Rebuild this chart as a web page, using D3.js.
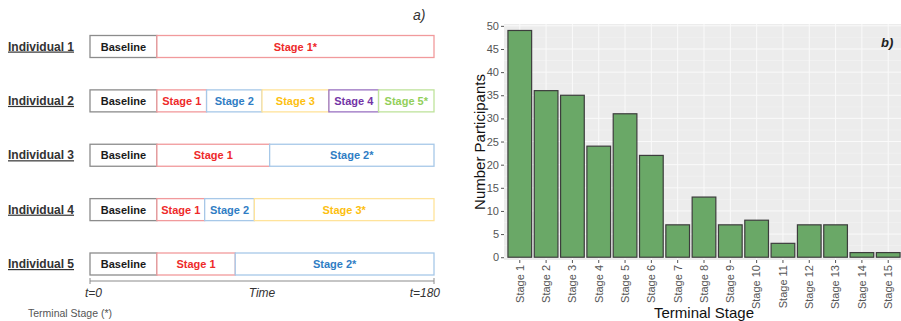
<!DOCTYPE html>
<html>
<head>
<meta charset="utf-8">
<script src="https://cdn.jsdelivr.net/npm/d3@7"></script>
<style>
  html, body { margin: 0; padding: 0; background: #ffffff; }
  svg { display: block; }
</style>
</head>
<body>
<svg id="chart" width="901" height="321"></svg>
<script>
// ---------- Panel a: example stage timelines ----------
const individuals = ["Individual 1", "Individual 2", "Individual 3", "Individual 4", "Individual 5"];
// segment boundaries in time units (baseline starts at t=0)
const segmentStarts = [
  [0, 35],
  [0, 35, 61, 90, 125, 151],
  [0, 35, 94],
  [0, 35, 60, 86],
  [0, 35, 76]
];
const segmentLabels = [
  ["Baseline", "Stage 1*"],
  ["Baseline", "Stage 1", "Stage 2", "Stage 3", "Stage 4", "Stage 5*"],
  ["Baseline", "Stage 1", "Stage 2*"],
  ["Baseline", "Stage 1", "Stage 2", "Stage 3*"],
  ["Baseline", "Stage 1", "Stage 2*"]
];
const timeEnd = 180;
const timeTicks = ["t=0", "t=180"];

// ---------- Panel b: terminal stage counts ----------
const stages = ["Stage 1", "Stage 2", "Stage 3", "Stage 4", "Stage 5", "Stage 6", "Stage 7", "Stage 8",
                "Stage 9", "Stage 10", "Stage 11", "Stage 12", "Stage 13", "Stage 14", "Stage 15"];
const participants = [49, 36, 35, 24, 31, 22, 7, 13, 7, 8, 3, 7, 7, 1, 1];
const yTicks = [0, 5, 10, 15, 20, 25, 30, 35, 40, 45, 50];

const svg = d3.select("#chart");
const fontB = "'Liberation Sans', Arial, Helvetica, sans-serif";

// stage colours: text colour and box outline
const stageText = {
  "Baseline": "#1a1a1a",
  "Stage 1": "#ee2a2a",
  "Stage 2": "#2f7dc4",
  "Stage 3": "#fdc010",
  "Stage 4": "#7334a6",
  "Stage 5": "#92cf5a"
};
const stageStroke = {
  "Baseline": "#8c8c8c",
  "Stage 1": "#f19a9c",
  "Stage 2": "#a7c8e8",
  "Stage 3": "#ffe39a",
  "Stage 4": "#9a72c2",
  "Stage 5": "#bfe39c"
};
const baseKey = s => s.replace("*", "");

// ----- panel a -----
const gA = svg.append("g");
const xT = d3.scaleLinear().domain([0, timeEnd]).range([90, 434]);
const yRow = d3.scalePoint().domain(individuals).range([46.5, 264]);
const boxH = 22;

individuals.forEach((name, i) => {
  const cy = yRow(name);
  gA.append("text")
    .attr("x", 8).attr("y", cy + 4)
    .attr("font-family", fontB).attr("font-weight", "bold")
    .attr("font-size", 12).attr("fill", "#333")
    .style("text-decoration", "underline")
    .text(name);

  const starts = segmentStarts[i];
  const labels = segmentLabels[i];
  starts.forEach((s, j) => {
    const e = j + 1 < starts.length ? starts[j + 1] : timeEnd;
    const key = baseKey(labels[j]);
    gA.append("rect")
      .attr("x", xT(s)).attr("y", cy - boxH / 2)
      .attr("width", xT(e) - xT(s)).attr("height", boxH)
      .attr("fill", "#ffffff")
      .attr("stroke", stageStroke[key]).attr("stroke-width", 1.3);
    gA.append("text")
      .attr("x", (xT(s) + xT(e)) / 2).attr("y", cy + 4)
      .attr("text-anchor", "middle")
      .attr("font-family", fontB).attr("font-weight", "bold")
      .attr("font-size", 11).attr("fill", stageText[key])
      .text(labels[j]);
  });
});

// time axis
const axisY = 281;
gA.append("line")
  .attr("x1", xT(0)).attr("x2", xT(timeEnd))
  .attr("y1", axisY).attr("y2", axisY)
  .attr("stroke", "#8c8c8c").attr("stroke-width", 1.2);
[0, timeEnd].forEach(t => {
  gA.append("line")
    .attr("x1", xT(t)).attr("x2", xT(t))
    .attr("y1", axisY - 3).attr("y2", axisY + 3)
    .attr("stroke", "#8c8c8c").attr("stroke-width", 1);
});
gA.append("text").attr("x", xT(0) - 5).attr("y", 297)
  .attr("font-family", fontB).attr("font-style", "italic")
  .attr("font-size", 12).attr("fill", "#333").text(timeTicks[0]);
gA.append("text").attr("x", xT(timeEnd) + 6).attr("y", 297)
  .attr("text-anchor", "end")
  .attr("font-family", fontB).attr("font-style", "italic")
  .attr("font-size", 12).attr("fill", "#333").text(timeTicks[1]);
gA.append("text").attr("x", (xT(0) + xT(timeEnd)) / 2).attr("y", 297)
  .attr("text-anchor", "middle")
  .attr("font-family", fontB).attr("font-style", "italic")
  .attr("font-size", 12).attr("fill", "#333").text("Time");
gA.append("text").attr("x", 28).attr("y", 317)
  .attr("font-family", fontB).attr("font-size", 10.5).attr("fill", "#555")
  .text("Terminal Stage (*)");
gA.append("text").attr("x", 413).attr("y", 20)
  .attr("font-family", fontB).attr("font-style", "italic")
  .attr("font-size", 14).attr("fill", "#333").text("a)");

// ----- panel b -----
const gB = svg.append("g");
const panel = { left: 504, right: 904, top: 24, bottom: 260 };
const x = d3.scaleBand().domain(stages)
  .range([panel.left, panel.right])
  .paddingInner(0.1).paddingOuter(0.15);
const y = d3.scaleLinear().domain([-0.6, 50.4]).range([panel.bottom, panel.top]);

gB.append("rect")
  .attr("x", panel.left).attr("y", panel.top)
  .attr("width", panel.right - panel.left).attr("height", panel.bottom - panel.top)
  .attr("fill", "#ececec");

// minor horizontal grid
const minor = d3.range(2.5, 50, 5);
gB.selectAll(".gminor").data(minor).join("line")
  .attr("x1", panel.left).attr("x2", panel.right)
  .attr("y1", d => y(d)).attr("y2", d => y(d))
  .attr("stroke", "#f4f4f4").attr("stroke-width", 0.6);
// major grid
gB.selectAll(".gmajor").data(yTicks).join("line")
  .attr("x1", panel.left).attr("x2", panel.right)
  .attr("y1", d => y(d)).attr("y2", d => y(d))
  .attr("stroke", "#fafafa").attr("stroke-width", 1);
gB.selectAll(".gx").data(stages).join("line")
  .attr("x1", d => x(d) + x.bandwidth() / 2).attr("x2", d => x(d) + x.bandwidth() / 2)
  .attr("y1", panel.top).attr("y2", panel.bottom)
  .attr("stroke", "#fafafa").attr("stroke-width", 1);

// bars
gB.selectAll(".bar").data(stages).join("rect")
  .attr("x", d => x(d)).attr("width", x.bandwidth())
  .attr("y", (d, i) => y(participants[i]))
  .attr("height", (d, i) => y(0) - y(participants[i]))
  .attr("fill", "#6aa867").attr("stroke", "#3d3d3d").attr("stroke-width", 1.2);

// y axis
const yAxis = d3.axisLeft(y).tickValues(yTicks).tickSize(3).tickPadding(2);
const ya = gB.append("g").attr("transform", `translate(${panel.left},0)`).call(yAxis);
ya.select(".domain").remove();
ya.selectAll(".tick line").attr("stroke", "#555");
ya.selectAll(".tick text").attr("font-family", fontB).attr("font-size", 11).attr("fill", "#555");

// x axis with vertical labels
const xAxis = d3.axisBottom(x).tickSize(3).tickPadding(2);
const xa = gB.append("g").attr("transform", `translate(0,${panel.bottom})`).call(xAxis);
xa.select(".domain").remove();
xa.selectAll(".tick line").attr("stroke", "#555");
xa.selectAll(".tick text")
  .attr("font-family", fontB).attr("font-size", 11).attr("fill", "#555")
  .attr("transform", "rotate(-90)")
  .attr("text-anchor", "end")
  .attr("x", -5).attr("y", 0).attr("dy", "0.35em");

// axis titles
gB.append("text")
  .attr("transform", `translate(485,${(panel.top + panel.bottom) / 2}) rotate(-90)`)
  .attr("text-anchor", "middle")
  .attr("font-family", fontB).attr("font-size", 15).attr("fill", "#111")
  .text("Number Participants");
gB.append("text")
  .attr("x", 704).attr("y", 318)
  .attr("text-anchor", "middle")
  .attr("font-family", fontB).attr("font-size", 15).attr("fill", "#111")
  .text("Terminal Stage");
gB.append("text")
  .attr("x", 881).attr("y", 47)
  .attr("font-family", fontB).attr("font-style", "italic").attr("font-weight", "bold")
  .attr("font-size", 13).attr("fill", "#222")
  .text("b)");
</script>
</body>
</html>
